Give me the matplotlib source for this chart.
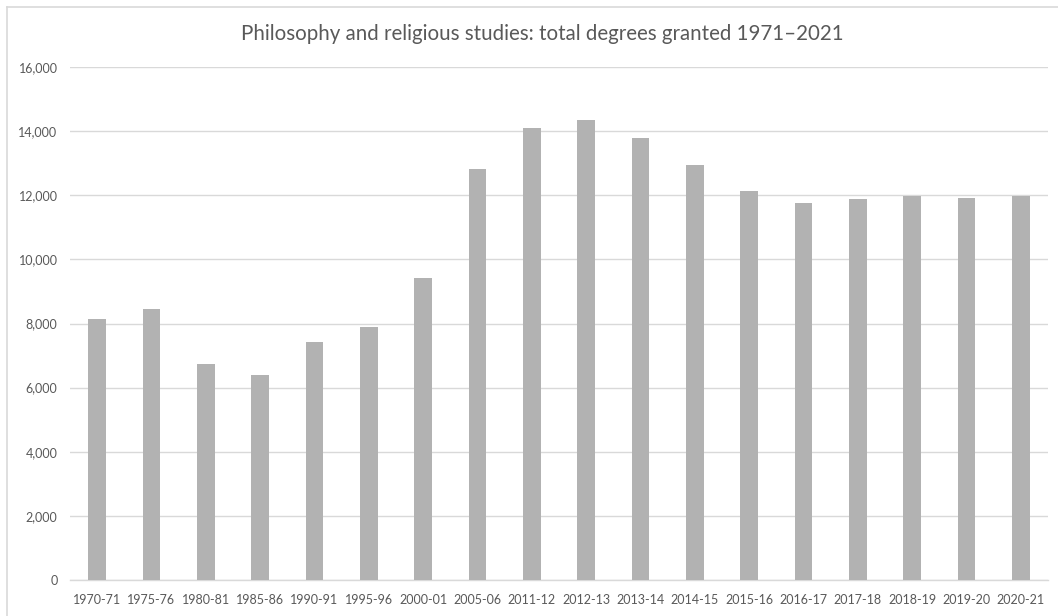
import matplotlib
matplotlib.use("Agg")
import matplotlib.pyplot as plt
from matplotlib.lines import Line2D
from matplotlib.ticker import FuncFormatter, MultipleLocator

plt.rcParams['font.family'] = ['Lato', 'DejaVu Sans']

years = ["1970-71", "1975-76", "1980-81", "1985-86", "1990-91", "1995-96",
         "2000-01", "2005-06", "2011-12", "2012-13", "2013-14", "2014-15",
         "2015-16", "2016-17", "2017-18", "2018-19", "2019-20", "2020-21"]
degrees = [8150, 8450, 6750, 6390, 7420, 7890, 9430, 12830, 14110, 14340,
           13790, 12940, 12130, 11750, 11880, 11990, 11910, 11980]

W, H = 1058, 616
fig = plt.figure(figsize=(W / 100, H / 100), dpi=100)
ax = fig.add_axes([70 / W, 36 / H, (1048 - 70) / W, (580 - 67) / H])

x = range(len(years))
ax.bar(x, degrees, width=0.33, color="#b2b2b2", zorder=3)

ax.set_xlim(-0.5, len(years) - 0.5)
ax.set_ylim(0, 16000)
ax.yaxis.set_major_locator(MultipleLocator(2000))
ax.yaxis.set_major_formatter(FuncFormatter(lambda v, p: f"{int(v):,}"))
ax.grid(axis="y", color="#d9d9d9", linewidth=1.0, zorder=0)

for s in ("top", "right", "left"):
    ax.spines[s].set_visible(False)
ax.spines["bottom"].set_color("#d9d9d9")
ax.spines["bottom"].set_linewidth(1.0)

ax.set_xticks(list(x))
ax.set_xticklabels(years)
ax.tick_params(axis="both", length=0, labelsize=9, labelcolor="#595959")
ax.tick_params(axis="y", pad=9)
ax.tick_params(axis="x", pad=10)

fig.text(542 / W, 1 - 34 / H, "Philosophy and religious studies: total degrees granted 1971\u20132021",
         ha="center", va="center", fontsize=14.8, color="#595959")

# chart area frame
fig.add_artist(Line2D([7 / W, 7 / W], [0, 1 - 7 / H], transform=fig.transFigure,
                      color="#d9d9d9", linewidth=1.2))
fig.add_artist(Line2D([7 / W, 1], [1 - 7 / H, 1 - 7 / H], transform=fig.transFigure,
                      color="#d9d9d9", linewidth=1.2))

fig.savefig("out.png", dpi=100)
